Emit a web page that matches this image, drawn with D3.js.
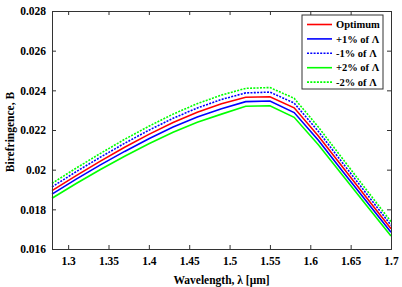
<!DOCTYPE html>
<html>
<head>
<meta charset="utf-8">
<script src="https://cdn.jsdelivr.net/npm/d3@7"></script>
<style>
  body { margin: 0; background: #fff; }
  svg text { font-family: "Liberation Serif", "Times New Roman", Times, "DejaVu Serif", serif !important; font-weight: bold; }
</style>
</head>
<body>
<div id="chart"></div>
<script>
// wavelength samples (um)
const wavelength = [1.28, 1.31, 1.34, 1.37, 1.40, 1.43, 1.46, 1.49, 1.52, 1.55, 1.58, 1.61, 1.64, 1.67, 1.70];

// birefringence values
const optimum = [0.01894, 0.01970, 0.02043, 0.02113, 0.02178, 0.02238, 0.02290, 0.02332, 0.02365, 0.02368, 0.02312, 0.02170, 0.02013, 0.01857, 0.01702];
const plus1   = [0.01877, 0.01952, 0.02024, 0.02092, 0.02156, 0.02215, 0.02266, 0.02307, 0.02343, 0.02346, 0.02288, 0.02148, 0.01992, 0.01838, 0.01684];
const minus1  = [0.01913, 0.01990, 0.02063, 0.02133, 0.02199, 0.02259, 0.02311, 0.02354, 0.02387, 0.02391, 0.02336, 0.02193, 0.02034, 0.01877, 0.01720];
const plus2   = [0.01856, 0.01930, 0.02001, 0.02068, 0.02131, 0.02189, 0.02239, 0.02280, 0.02320, 0.02322, 0.02264, 0.02126, 0.01972, 0.01818, 0.01666];
const minus2  = [0.01931, 0.02008, 0.02082, 0.02153, 0.02219, 0.02280, 0.02333, 0.02376, 0.02410, 0.02414, 0.02360, 0.02215, 0.02055, 0.01896, 0.01738];

const xTicks = [1.3, 1.35, 1.4, 1.45, 1.5, 1.55, 1.6, 1.65, 1.7];
const yTicks = [0.016, 0.018, 0.02, 0.022, 0.024, 0.026, 0.028];
const yTickLabels = ["0.016", "0.018", "0.02", "0.022", "0.024", "0.026", "0.028"];

const series = [
  { name: "Optimum",   values: optimum, color: "#ff0000", dash: null },
  { name: "+1% of Λ",  values: plus1,   color: "#0000ff", dash: null },
  { name: "-1% of Λ",  values: minus1,  color: "#0000ff", dash: "2,1.3" },
  { name: "+2% of Λ",  values: plus2,   color: "#00ff00", dash: null },
  { name: "-2% of Λ",  values: minus2,  color: "#00ff00", dash: "2,1.3" }
];

const width = 402, height = 287;
const margin = { left: 52, right: 11, top: 11, bottom: 38 };
const iw = width - margin.left - margin.right;
const ih = height - margin.top - margin.bottom;

const svg = d3.select("#chart").append("svg")
  .attr("width", width)
  .attr("height", height);

const g = svg.append("g").attr("transform", `translate(${margin.left},${margin.top})`);

const x = d3.scaleLinear().domain([1.28, 1.7]).range([0, iw]);
const y = d3.scaleLinear().domain([0.016, 0.028]).range([ih, 0]);

const line = d3.line()
  .x((d, i) => x(wavelength[i]))
  .y(d => y(d));

// dotted ones last so they sit on top
[series[3], series[1], series[0], series[2], series[4]].forEach(s => {
  g.append("path")
    .attr("d", line(s.values))
    .attr("fill", "none")
    .attr("stroke", s.color)
    .attr("stroke-width", 1.6)
    .attr("stroke-dasharray", s.dash);
});

// axes (ticks inward, matlab-like box)
const tickLen = 4;
const xAxis = g.append("g").attr("transform", `translate(0,${ih})`)
  .call(d3.axisBottom(x).tickValues(xTicks).tickSize(-tickLen).tickPadding(8).tickFormat(d3.format("")));
const xTop = g.append("g")
  .call(d3.axisTop(x).tickValues(xTicks).tickSize(-tickLen).tickFormat(""));
const yAxis = g.append("g")
  .call(d3.axisLeft(y).tickValues(yTicks).tickSize(-tickLen).tickPadding(6).tickFormat((d, i) => yTickLabels[i]));
const yRight = g.append("g").attr("transform", `translate(${iw},0)`)
  .call(d3.axisRight(y).tickValues(yTicks).tickSize(-tickLen).tickFormat(""));

[xAxis, xTop, yAxis, yRight].forEach(a => {
  a.attr("font-family", null);
  a.select(".domain").attr("stroke", "#333").attr("stroke-width", 1);
  a.selectAll(".tick line").attr("stroke", "#333");
  a.selectAll("text").attr("font-size", 11.5).attr("fill", "#000");
});

// axis titles
svg.append("text")
  .attr("x", margin.left + iw / 2)
  .attr("y", 284)
  .attr("text-anchor", "middle")
  .attr("font-size", 11.5)
  .text("Wavelength, λ [μm]");

svg.append("text")
  .attr("transform", `translate(14,${margin.top + ih / 2 + 2}) rotate(-90)`)
  .attr("text-anchor", "middle")
  .attr("font-size", 11.5)
  .text("Birefringence, B");

// legend
const leg = svg.append("g").attr("transform", "translate(302,15)");
leg.append("rect")
  .attr("width", 81).attr("height", 74)
  .attr("fill", "#fff").attr("stroke", "#333").attr("stroke-width", 1);

series.forEach((s, i) => {
  const yy = 9.5 + i * 14.4;
  leg.append("line")
    .attr("x1", 5).attr("x2", 30)
    .attr("y1", yy).attr("y2", yy)
    .attr("stroke", s.color)
    .attr("stroke-width", 1.6)
    .attr("stroke-dasharray", s.dash);
  leg.append("text")
    .attr("x", 34).attr("y", yy + 3.6)
    .attr("font-size", 10.5)
    .text(s.name);
});
</script>
</body>
</html>
